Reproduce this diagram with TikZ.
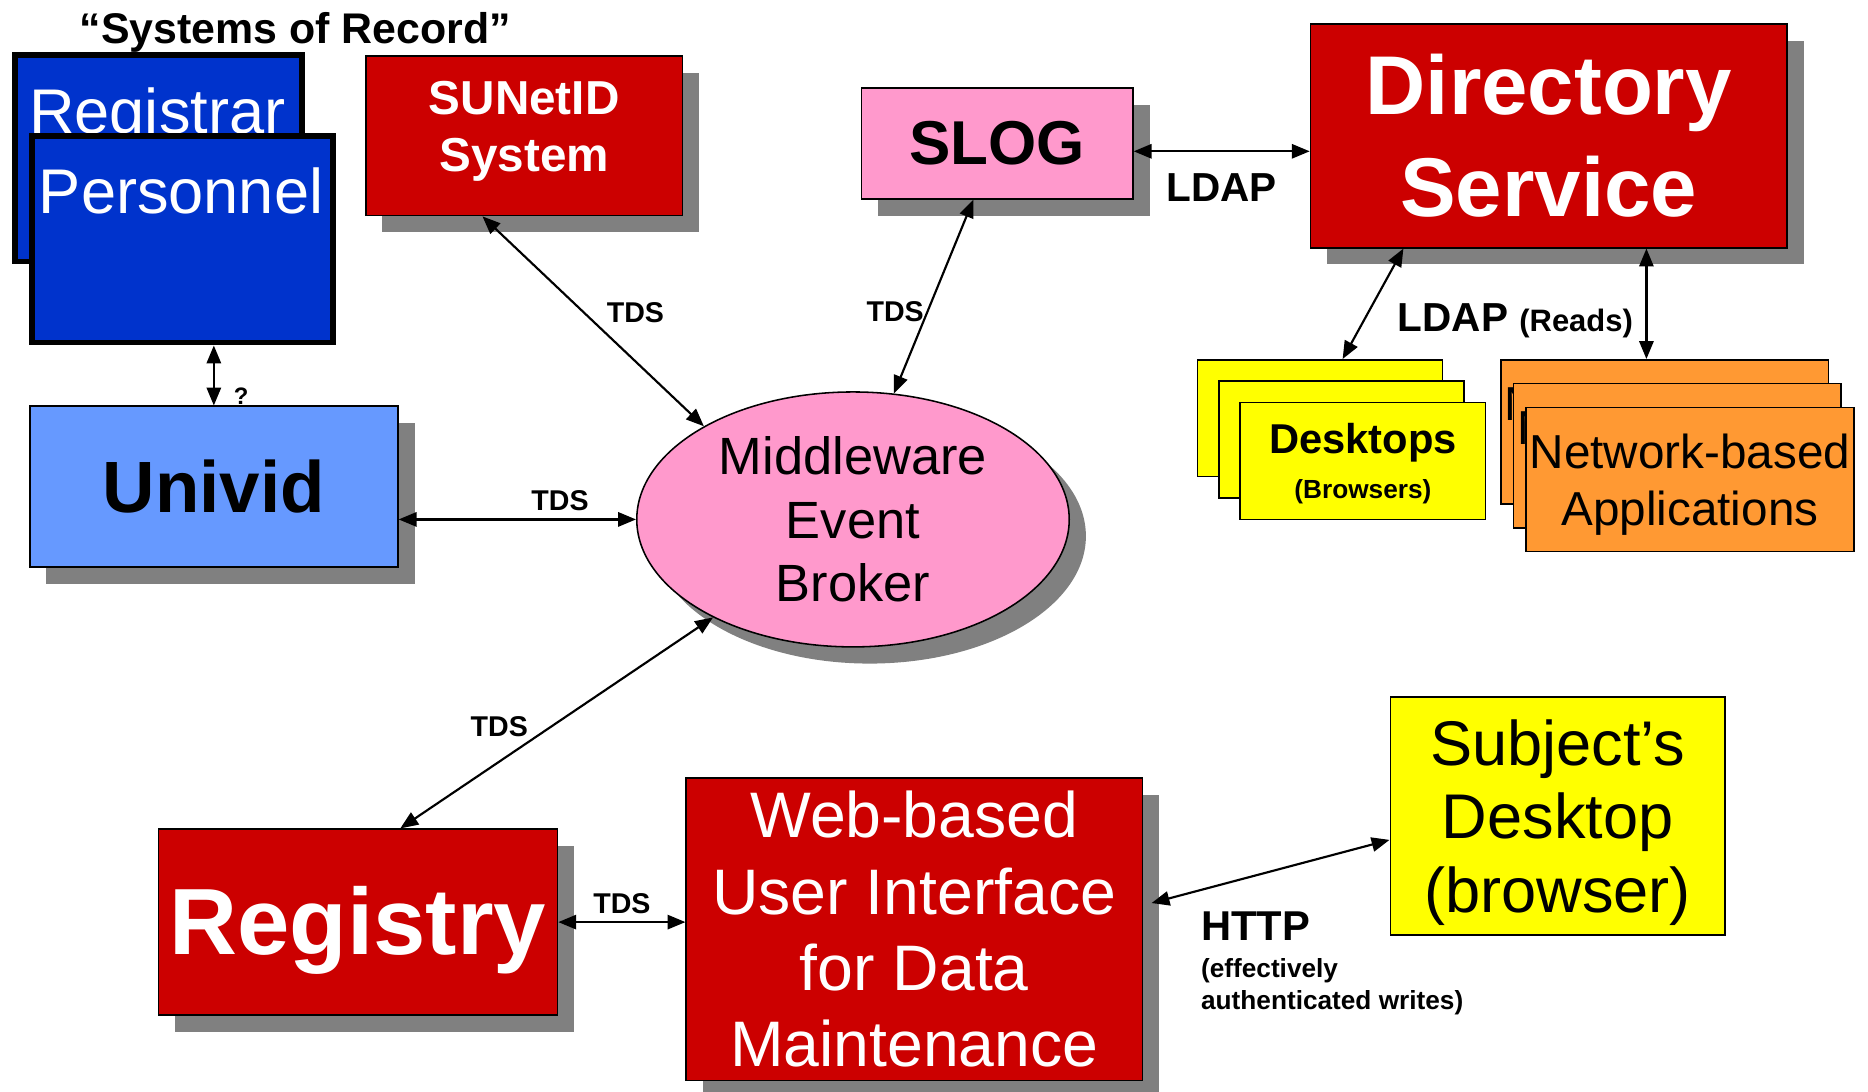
\documentclass[tikz,border=0pt]{standalone}
\usepackage{fontspec}
\setmainfont{Liberation Sans}
\usepackage{tikz}
\usetikzlibrary{arrows.meta}
\tikzset{>={Triangle[length=15pt,width=12pt]}}
\usetikzlibrary{shapes,positioning}
\usetikzlibrary{shadows}
\definecolor{sorBlue}{HTML}{0033CC}
\definecolor{univBlue}{HTML}{6699FF}
\definecolor{sysRed}{HTML}{CC0000}
\definecolor{slogPink}{HTML}{FF99CC}
\definecolor{deskYellow}{HTML}{FFFF00}
\definecolor{appOrange}{HTML}{FF9933}
\definecolor{shadowGray}{HTML}{808080}
\newcommand{\fsz}[2]{\fontsize{#1}{#2}\selectfont}
\tikzset{
  box/.style={rectangle,draw=black,line width=1.3pt,inner sep=0pt,align=center},
  shadowed/.style={drop shadow={shadow xshift=14pt,shadow yshift=-14pt,fill=shadowGray,opacity=1}},
  sorbox/.style={rectangle,draw=black,line width=5pt,fill=sorBlue},
  sortext/.style={text=white,font=\fsz{53}{64},anchor=base,inner sep=0pt},
  deskbox/.style={box,fill=deskYellow,minimum width=206pt,minimum height=98pt},
  link/.style={<->,line width=1.8pt},
  tds/.style={font=\fsz{24}{28}\bfseries,inner sep=2pt}
}

\begin{document}
\begin{tikzpicture}[x=1pt,y=-1pt]
    \useasboundingbox (0,0) rectangle (1568,916);

    \node[font=\fsz{36}{43}\bfseries] (sortitle) at (248,27) {“Systems of Record”};
    \node[sorbox,minimum width=241pt,minimum height=173pt] (registrar) at (133,133) {};
    \node[sortext] (regtxt) at (132,112) {Registrar};
    \node[sorbox,minimum width=253pt,minimum height=173pt] (personnel) at (153,201) {};
    \node[sortext] (pertxt) at (152,179) {Personnel};

    \node[box,shadowed,fill=univBlue,minimum width=309pt,minimum height=135pt,font=\fsz{61}{70}\bfseries] (univid) at (179.5,408.5) {Univid};
    \node[box,shadowed,fill=sysRed,text=white,minimum width=266pt,minimum height=134pt,text depth=16pt,font=\fsz{40}{48}\bfseries] (sunetid) at (440,114) {SUNetID\\System};
    \node[box,shadowed,fill=slogPink,minimum width=228pt,minimum height=93pt,font=\fsz{52}{60}\bfseries] (slog) at (837,120.5) {SLOG};
    \node[box,shadowed,fill=sysRed,text=white,minimum width=400pt,minimum height=188pt,font=\fsz{70}{86}\bfseries] (dirsvc) at (1300,114) {Directory\\Service};
    \node[ellipse,draw=black,line width=1.3pt,shadowed,fill=slogPink,minimum width=363pt,minimum height=214pt,inner sep=0pt,align=center,font=\fsz{44}{53.5}] (broker) at (716,436) {Middleware\\Event\\Broker};
    \node[box,shadowed,fill=sysRed,text=white,minimum width=335pt,minimum height=156pt,text depth=3pt,font=\fsz{79}{90}\bfseries] (registry) at (300.5,774) {Registry};
    \node[box,shadowed,fill=sysRed,text=white,minimum width=383pt,minimum height=254pt,font=\fsz{54}{64}] (webui) at (767.5,780) {Web-based\\User Interface\\for Data\\Maintenance};
    \node[box,fill=deskYellow,minimum width=281pt,minimum height=200pt,text depth=-17pt,font=\fsz{53}{62}] (subject) at (1307.5,685) {Subject’s\\Desktop\\(browser)};

    % stacked clients
    \foreach \i in {2,1}{
      \node[deskbox] (desk\i) at ({1144-18*\i},{387-18*\i}) {};
    }
    \node[deskbox,text depth=-3pt,font=\fsz{22}{26}\bfseries] (desk0) at (1144,387) {{\fsz{35}{40}Desktops}\\[12pt](Browsers)};
    \foreach \i in {2,1,0}{
      \node[box,fill=appOrange,minimum width=275pt,minimum height=121pt,text depth=-3pt,font=\fsz{40}{48}] (app\i) at ({1418.5-10.5*\i},{402.5-20*\i}) {Network-based\\Applications};
    }

    \draw[link] (personnel.south -| univid.north) -- node[pos=.85,right=16pt,font=\fsz{20}{24}\bfseries,inner sep=0pt] {?} (univid.north);
    \draw[link] (univid.east |- broker.west) -- node[pos=.68,above=4pt,tds] {TDS} (broker.west);
    \draw[link] ([xshift=-35pt]sunetid.south) -- node[pos=.46,right=16pt,tds] {TDS} (broker.148);
    \draw[link] ([xshift=-20pt]slog.south) -- node[pos=.58,left=0pt,tds] {TDS} (broker.72);
    \draw[link] ([yshift=-6.5pt]slog.east) -- node[below=16pt,font=\fsz{34}{40}\bfseries,inner sep=2pt] {LDAP} ([yshift=-6.5pt]slog.east -| dirsvc.west);
    \draw[link] ([xshift=-122pt]dirsvc.south) -- ([xshift=19pt]desk2.north);
    \draw[link] ([xshift=82pt]dirsvc.south) -- ([xshift=82pt]dirsvc.south |- app2.north);
    \node[font=\fsz{34}{40}\bfseries,anchor=base,inner sep=0pt] (ldapreads) at (1272,278) {LDAP {\fsz{26}{30}(Reads)}};
    \draw[link] (broker.215) -- node[pos=.52,left=16pt,tds] {TDS} ([xshift=35.5pt]registry.north);
    \draw[link] (registry.east) -- node[above=4pt,tds] {TDS} (registry.east -| webui.west);
    \draw[link] ([xshift=7pt,yshift=22pt]webui.east) -- ([yshift=-20pt]subject.west);
    \node[anchor=north west,align=left,inner sep=0pt,font=\fsz{22}{27}\bfseries] (httplbl) at (1008,765) {{\fsz{35}{40}HTTP}\\[4pt](effectively\\authenticated writes)};

\end{tikzpicture}
\end{document}
